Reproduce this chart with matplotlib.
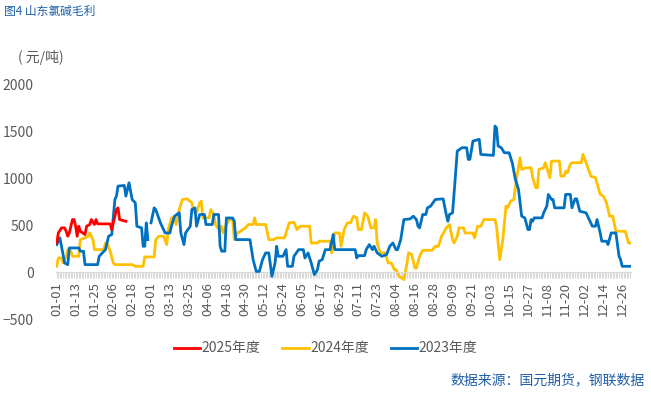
import numpy as np
import pandas as pd
import matplotlib
matplotlib.use("Agg")
import matplotlib.pyplot as plt
from matplotlib.ticker import MultipleLocator

plt.rcParams['font.family'] = ['Noto Sans CJK SC', 'DejaVu Sans']

# category axis: one slot per calendar day (leap-year calendar, 366 slots)
all_days = pd.date_range("2024-01-01", "2024-12-31").strftime("%m-%d").tolist()

# values (day index, yuan/ton)
days_2025 = [0, 1, 3, 5, 6, 7, 8, 10, 11, 12, 13, 14, 15, 18, 19, 21, 22, 24, 25, 26, 34, 35, 38, 39, 40, 44]
vals_2025 = [314, 420, 474, 474, 438, 385, 420, 563, 563, 492, 385, 492, 438, 403, 492, 510, 563, 510, 563, 517,
             517, 456, 670, 688, 563, 545]

days_2024 = [0, 1, 3, 4, 6, 7, 9, 10, 14, 15, 18, 20, 21, 23, 24, 30, 31, 32, 34, 36, 37, 48, 50, 55, 56, 62, 63,
             65, 68, 70, 71, 73, 75, 76, 78, 80, 83, 86, 87, 89, 91, 92, 93, 97, 98, 100, 101, 104, 105, 106, 108,
             110, 112, 113, 115, 117, 120, 122, 125, 126, 127, 133, 135, 138, 140, 145, 148, 151, 153, 155, 161,
             162, 166, 167, 174, 175, 177, 180, 181, 183, 185, 187, 189, 191, 192, 194, 196, 198, 200, 202, 203,
             204, 206, 209, 211, 213, 215, 216, 218, 221, 223, 224, 226, 228, 229, 231, 233, 239, 241, 243, 245,
             248, 250, 252, 253, 255, 256, 259, 260, 265, 266, 268, 270, 272, 279, 280, 281, 282, 284, 286, 287,
             289, 291, 293, 295, 296, 299, 302, 303, 305, 306, 307, 310, 311, 314, 315, 320, 321, 323, 324, 325,
             327, 328, 334, 335, 337, 340, 343, 346, 348, 350, 352, 354, 356, 362, 364, 365]
vals_2024 = [64, 153, 153, 100, 171, 242, 225, 171, 171, 349, 367, 385, 420, 349, 242, 242, 313, 313, 225, 100, 82,
             82, 64, 64, 164, 164, 349, 385, 385, 296, 456, 581, 581, 510, 670, 777, 784, 742, 652, 635, 742, 760,
             581, 581, 670, 617, 510, 438, 492, 420, 510, 563, 563, 349, 420, 438, 474, 510, 510, 581, 510, 510,
             349, 349, 367, 367, 528, 534, 456, 492, 492, 313, 313, 332, 332, 207, 420, 420, 278, 456, 528, 528,
             599, 581, 456, 456, 635, 599, 474, 474, 563, 313, 207, 207, 100, 100, 28, 28, -43, -78, 100, 207, 189,
             46, 46, 171, 235, 235, 278, 278, 385, 474, 510, 349, 313, 385, 474, 474, 420, 420, 367, 492, 492, 563,
             563, 492, 313, 135, 349, 706, 688, 760, 777, 1027, 1223, 1098, 1116, 1116, 1009, 902, 902, 1098, 1116,
             1170, 1009, 1187, 1187, 1027, 1027, 1080, 1062, 1151, 1170, 1170, 1258, 1170, 1027, 1009, 831, 813,
             742, 599, 599, 438, 438, 313, 313]

days_2023 = [0, 2, 5, 7, 8, 14, 15, 17, 18, 26, 27, 31, 33, 35, 37, 38, 39, 43, 44, 45, 46, 48, 50, 51, 54, 55, 56,
             57, 58, 59, 60, 62, 63, 66, 67, 69, 72, 73, 75, 78, 79, 81, 82, 85, 86, 88, 89, 91, 94, 95, 99, 100,
             103, 104, 105, 107, 108, 112, 113, 114, 123, 125, 127, 129, 131, 133, 135, 137, 139, 140, 141, 144,
             146, 147, 150, 151, 154, 157, 158, 160, 162, 164, 166, 167, 169, 171, 174, 176, 177, 190, 191, 192,
             196, 197, 199, 201, 202, 204, 207, 210, 212, 214, 216, 217, 219, 221, 225, 227, 229, 230, 231, 233,
             235, 236, 238, 241, 246, 248, 249, 250, 252, 253, 255, 258, 261, 262, 263, 265, 269, 270, 278, 279,
             280, 281, 283, 285, 288, 290, 292, 294, 296, 298, 300, 301, 302, 303, 304, 309, 310, 312, 313, 315,
             316, 317, 323, 324, 327, 328, 330, 331, 333, 337, 339, 341, 343, 344, 346, 347, 350, 351, 353, 356,
             358, 359, 360, 365]
vals_2023 = [296, 367, 100, 82, 260, 260, 225, 225, 82, 82, 171, 242, 385, 403, 777, 813, 920, 927, 813, 884, 955,
             777, 742, 492, 474, 278, 278, 528, 349, np.nan, 528, 688, 670, 528, 492, 420, 420, 492, 600, 635, 420,
             296, 420, 492, 670, 688, 492, 617, 617, 510, 510, 617, 617, 278, 225, 225, 580, 580, 545, 349, 349,
             135, 10, 10, 135, 207, 207, -43, 100, 278, 171, 171, 242, 64, 64, 171, 242, 242, 153, 207, 100, -25,
             28, 118, 135, 242, 242, 403, 242, 242, 153, 178, 178, 242, 296, 242, 278, 207, 171, 189, 278, 313,
             242, 242, 349, 563, 570, 599, 563, 492, 474, 617, 617, 688, 706, 777, 784, 617, 545, 617, 635, 848,
             1294, 1330, 1330, 1205, 1205, 1401, 1419, 1258, 1248, 1561, 1540, 1348, 1330, 1276, 1276, 1170, 991,
             884, 599, 581, 456, 456, 563, 545, 581, 581, 635, 706, 831, 777, 777, 688, 688, 831, 831, 688, 784,
             784, 652, 635, 563, 492, 492, 563, 420, 332, 332, 296, 420, 420, 171, 135, 64, 64]

fig = plt.figure(figsize=(6.51, 3.95), dpi=100)
ax = fig.add_axes([0.086, 0.192, 0.883, 0.593])

ax.plot(days_2024, vals_2024, color="#FFC000", lw=2.0, label="2024年度", zorder=2)
ax.plot(days_2023, vals_2023, color="#0070C0", lw=2.0, label="2023年度", zorder=3)
ax.plot(days_2025, vals_2025, color="#FF0000", lw=2.0, label="2025年度", zorder=4)

ax.set_xlim(-0.5, len(all_days) - 0.5)
ax.set_ylim(-500, 2000)
ax.yaxis.set_major_locator(MultipleLocator(500))

for s in ["top", "right", "left"]:
    ax.spines[s].set_visible(False)
ax.spines["bottom"].set_position(("data", 0))
ax.spines["bottom"].set_color("#D9D9D9")

tick_pos = list(range(0, len(all_days), 12))
ax.set_xticks(tick_pos)
ax.set_xticklabels([all_days[i] for i in tick_pos], rotation=90)
ax.set_xticks(range(len(all_days)), minor=True)
ax.tick_params(axis="x", which="both", length=4, color="#D9D9D9", width=0.8,
               labelsize=9.5, labelcolor="#595959", pad=3)
ax.tick_params(axis="y", length=0, labelsize=10, labelcolor="#595959", pad=16)

fig.text(0.006, 0.972, "图4 山东氯碱毛利", color="#1F5FA8", fontsize=8.5, va="center")
fig.text(0.027, 0.855, "( 元/吨)", color="#595959", fontsize=10, va="center")
fig.text(0.99, 0.038, "数据来源：国元期货，钢联数据", color="#1F5FA8", fontsize=10,
         ha="right", va="center")

h, l = ax.get_legend_handles_labels()
order = [2, 0, 1]
fig.legend([h[i] for i in order], [l[i] for i in order], loc="center", ncol=3,
           bbox_to_anchor=(0.5, 0.118), frameon=False, fontsize=10, handlelength=1.9,
           handletextpad=0.1, columnspacing=1.6, labelcolor="#595959")

fig.savefig("out.png", dpi=100)
